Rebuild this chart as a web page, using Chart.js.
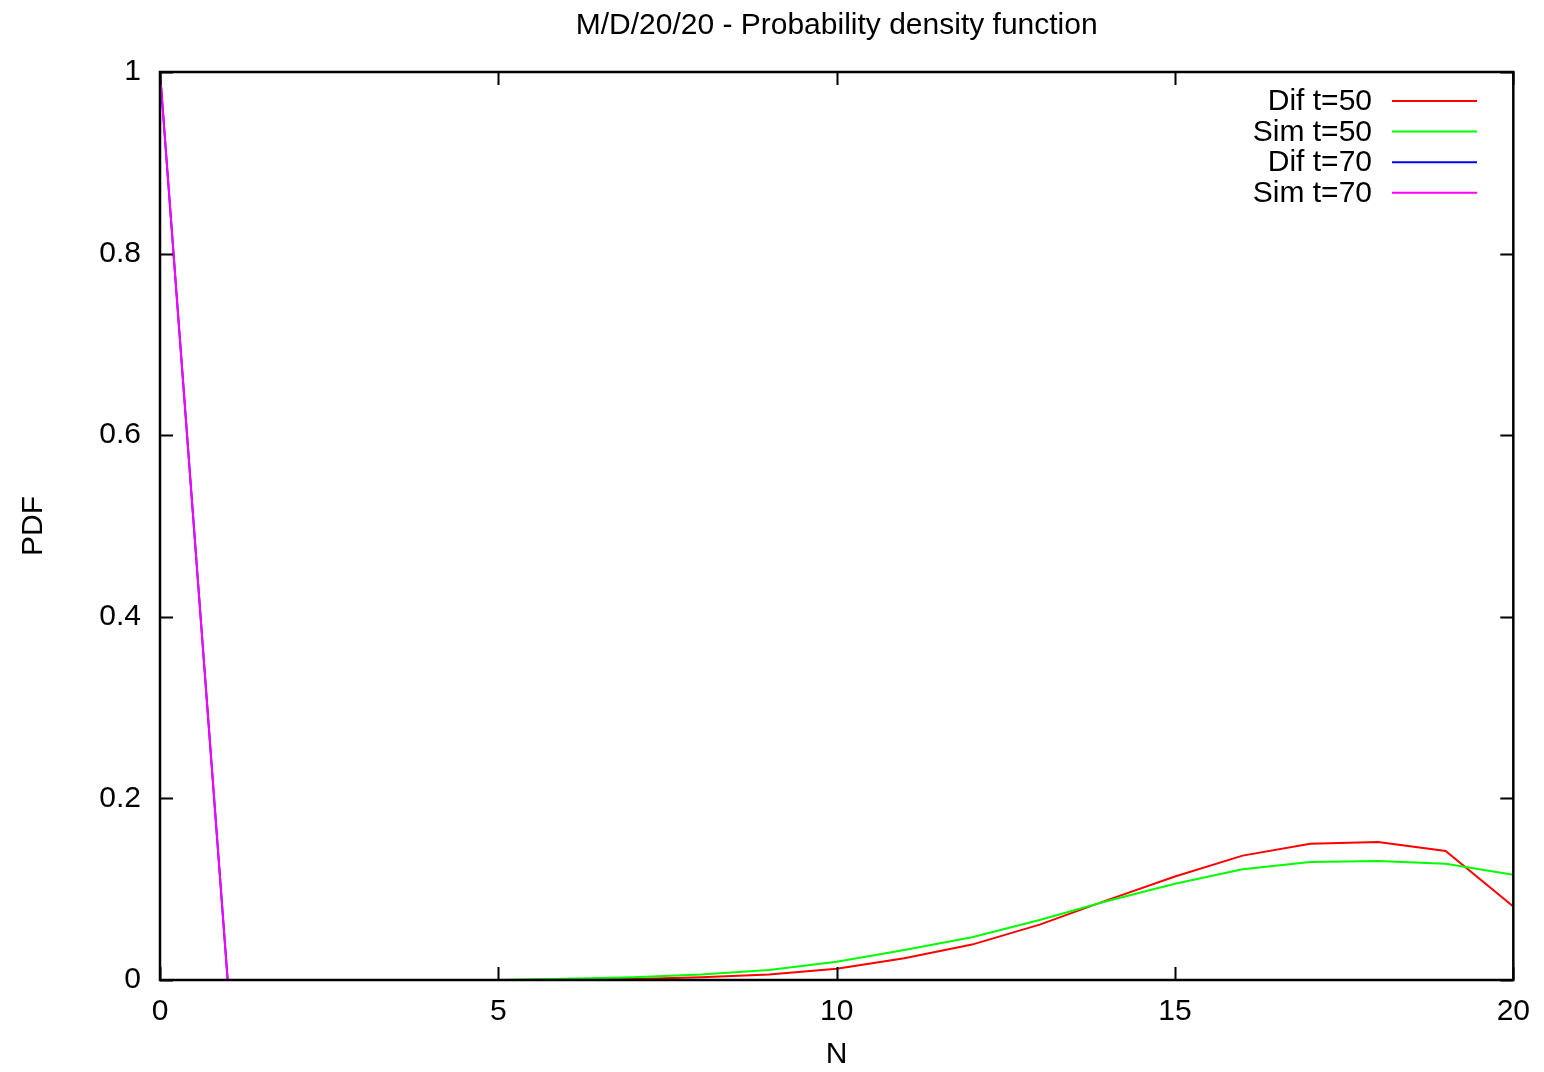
<!DOCTYPE html>
<html>
<head>
<meta charset="utf-8">
<script src="https://cdn.jsdelivr.net/npm/chart.js@4/dist/chart.umd.min.js"></script>
<style>
    html, body { margin: 0; padding: 0; background: #fff; }
    #wrap { width: 1544px; height: 1072px; }
</style>
</head>
<body>
<div id="wrap"><canvas id="pdfChart" width="1544" height="1072"></canvas></div>
<script>
// data
const nValues = [0, 1, 2, 3, 4, 5, 6, 7, 8, 9, 10, 11, 12, 13, 14, 15, 16, 17, 18, 19, 20];
const difT50 = [null, null, null, null, null, 0, 0.0003, 0.001, 0.003, 0.006, 0.0125, 0.024, 0.039, 0.061, 0.088, 0.114, 0.137, 0.150, 0.152, 0.142, 0.081];
const simT50 = [null, null, null, null, null, 0, 0.0015, 0.003, 0.006, 0.011, 0.020, 0.033, 0.047, 0.066, 0.087, 0.106, 0.122, 0.130, 0.131, 0.128, 0.116];
const difT70 = [1, 0, 0, 0, 0, 0, 0, 0, 0, 0, 0, 0, 0, 0, 0, 0, 0, 0, 0, 0, 0];
const simT70 = [1, 0, 0, 0, 0, 0, 0, 0, 0, 0, 0, 0, 0, 0, 0, 0, 0, 0, 0, 0, 0];

const seriesNames = ["Dif t=50", "Sim t=50", "Dif t=70", "Sim t=70"];
const seriesColors = ["#ff0000", "#00ff00", "#0000ff", "#ff00ff"];
const xTicks = [0, 5, 10, 15, 20];
const yTicks = [0, 0.2, 0.4, 0.6, 0.8, 1];

const FONT = "'Liberation Sans', Arial, sans-serif";
const FSIZE = 30;

function toPoints(arr) {
    return nValues
        .map((n, i) => ({ x: n, y: arr[i] }))
        .filter(p => p.y !== null);
}

const allSeries = [difT50, simT50, difT70, simT70];

// gnuplot style frame: box + inward ticks on all four sides
const framePlugin = {
    id: "frame",
    afterDatasetsDraw(chart) {
        const ctx = chart.ctx;
        const a = chart.chartArea;
        const xs = chart.scales.x;
        const ys = chart.scales.y;
        const len = 13;
        ctx.save();
        ctx.strokeStyle = "#000";
        ctx.lineWidth = 2;
        ctx.beginPath();
        xTicks.forEach(v => {
            const px = Math.round(xs.getPixelForValue(v)) + 0.5;
            ctx.moveTo(px, a.bottom); ctx.lineTo(px, a.bottom - len);
            ctx.moveTo(px, a.top); ctx.lineTo(px, a.top + len);
        });
        yTicks.forEach(v => {
            const py = Math.round(ys.getPixelForValue(v)) + 0.5;
            ctx.moveTo(a.left, py); ctx.lineTo(a.left + len, py);
            ctx.moveTo(a.right, py); ctx.lineTo(a.right - len, py);
        });
        ctx.stroke();
        ctx.lineWidth = 2.5;
        ctx.strokeRect(a.left, a.top, a.right - a.left, a.bottom - a.top);
        ctx.restore();
    }
};

// key in the top right corner, text right aligned, sample line after it
const keyPlugin = {
    id: "key",
    afterDraw(chart) {
        const ctx = chart.ctx;
        ctx.save();
        ctx.font = FSIZE + "px " + FONT;
        ctx.textAlign = "right";
        ctx.textBaseline = "middle";
        chart.data.datasets.forEach((ds, i) => {
            const y = 101 + i * 30.6;
            ctx.fillStyle = "#000";
            ctx.fillText(ds.label, 1372, y + 1);
            ctx.strokeStyle = ds.borderColor;
            ctx.lineWidth = 2;
            ctx.beginPath();
            ctx.moveTo(1392, y);
            ctx.lineTo(1477, y);
            ctx.stroke();
        });
        ctx.restore();
    }
};

const chart = new Chart(document.getElementById("pdfChart").getContext("2d"), {
    type: "line",
    data: {
        datasets: allSeries.map((arr, i) => ({
            label: seriesNames[i],
            data: toPoints(arr),
            borderColor: seriesColors[i],
            backgroundColor: seriesColors[i],
            borderWidth: 2,
            pointRadius: 0,
            tension: 0,
            fill: false,
            order: 4 - i
        }))
    },
    options: {
        responsive: false,
        animation: false,
        layout: { padding: { left: 0, right: 30, top: 0, bottom: 0 } },
        plugins: {
            legend: { display: false },
            tooltip: { enabled: false },
            title: {
                display: true,
                fullSize: false,
                text: "M/D/20/20 - Probability density function",
                color: "#000",
                font: { family: FONT, size: FSIZE, weight: "normal", lineHeight: 1.2 },
                padding: { top: 8, bottom: 28 }
            }
        },
        scales: {
            x: {
                type: "linear",
                min: 0,
                max: 20,
                afterFit(scale) { scale.height = 92; },
                afterBuildTicks(scale) { scale.ticks = xTicks.map(v => ({ value: v })); },
                grid: { display: false, drawTicks: false },
                border: { display: false },
                ticks: {
                    color: "#000",
                    padding: 14,
                    maxRotation: 0,
                    font: { family: FONT, size: FSIZE }
                },
                title: {
                    display: true,
                    text: "N",
                    color: "#000",
                    font: { family: FONT, size: FSIZE, lineHeight: 1 },
                    padding: { top: 0, bottom: 2 }
                }
            },
            y: {
                type: "linear",
                min: 0,
                max: 1,
                afterFit(scale) { scale.width = 160; },
                afterBuildTicks(scale) { scale.ticks = yTicks.map(v => ({ value: v })); },
                grid: { display: false, drawTicks: false },
                border: { display: false },
                ticks: {
                    color: "#000",
                    padding: 19,
                    font: { family: FONT, size: FSIZE },
                    callback: v => String(Math.round(v * 10) / 10)
                },
                title: {
                    display: true,
                    text: "PDF",
                    color: "#000",
                    font: { family: FONT, size: FSIZE },
                    padding: { top: 16, bottom: 0 }
                }
            }
        }
    },
    plugins: [framePlugin, keyPlugin]
});
</script>
</body>
</html>
